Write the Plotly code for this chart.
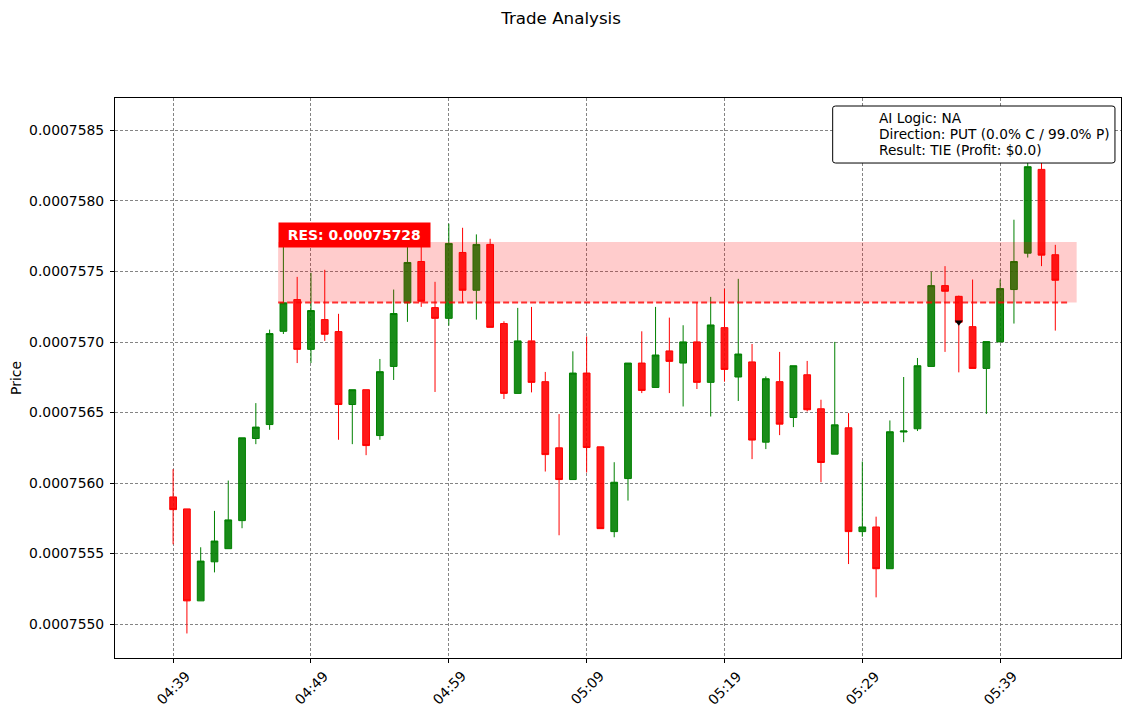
import pandas as pd
import plotly.graph_objects as go

# one candle per minute, 04:39 -> 05:43
times = pd.date_range("2024-01-01 04:39", periods=65, freq="1min")

opens = [0.000755902, 0.000755817, 0.000755165, 0.000755442, 0.000755535, 0.000755734, 0.000756316, 0.000756415,
         0.000757076, 0.000757301, 0.000756948, 0.000757159, 0.000757074, 0.000756557, 0.000756662, 0.000756337,
         0.000756827, 0.000757278, 0.000757571, 0.000757244, 0.000757168, 0.000757635, 0.000757367, 0.000757692,
         0.000757131, 0.000756636, 0.000757008, 0.000756719, 0.000756250, 0.000756025, 0.000756780, 0.000756257,
         0.000755656, 0.000756032, 0.000756851, 0.000756678, 0.000756937, 0.000756851, 0.000757001, 0.000756714,
         0.000757102, 0.000756752, 0.000756859, 0.000756290, 0.000756719, 0.000756465, 0.000756768, 0.000756527,
         0.000756205, 0.000756392, 0.000755656, 0.000755689, 0.000755393, 0.000756362, 0.000756385, 0.000756827,
         0.000757400, 0.000757324, 0.000757109, 0.000756813, 0.000757001, 0.000757372, 0.000757630, 0.000758224,
         0.000757619]
highs = [0.000756099, 0.000755817, 0.000755545, 0.000755803, 0.000756018, 0.000756321, 0.000756567, 0.000757088,
         0.000757700, 0.000757462, 0.000757491, 0.000757512, 0.000757200, 0.000756662, 0.000756662, 0.000756880,
         0.000757372, 0.000757720, 0.000757680, 0.000757427, 0.000757839, 0.000757810, 0.000757763, 0.000757732,
         0.000757147, 0.000757242, 0.000757249, 0.000756788, 0.000756489, 0.000756934, 0.000757040, 0.000756257,
         0.000756148, 0.000756851, 0.000757076, 0.000757249, 0.000757173, 0.000757119, 0.000757282, 0.000757320,
         0.000757377, 0.000757448, 0.000756986, 0.000756756, 0.000756930, 0.000756832, 0.000756866, 0.000756591,
         0.000757001, 0.000756496, 0.000756153, 0.000755762, 0.000756444, 0.000756752, 0.000756887, 0.000757498,
         0.000757538, 0.000757329, 0.000757443, 0.000757003, 0.000757443, 0.000757867, 0.000758320, 0.000758300,
         0.000757689]
lows = [0.000755566, 0.000754934, 0.000755165, 0.000755367, 0.000755535, 0.000755680, 0.000756276, 0.000756378,
        0.000757057, 0.000756851, 0.000756851, 0.000757008, 0.000756307, 0.000756276, 0.000756198, 0.000756307,
        0.000756731, 0.000757143, 0.000757249, 0.000756646, 0.000757116, 0.000757278, 0.000757159, 0.000757104,
        0.000756596, 0.000756636, 0.000756643, 0.000756082, 0.000755630, 0.000756025, 0.000756075, 0.000755677,
        0.000755616, 0.000755876, 0.000756638, 0.000756678, 0.000756638, 0.000756543, 0.000756667, 0.000756472,
        0.000756719, 0.000756582, 0.000756170, 0.000756241, 0.000756340, 0.000756397, 0.000756508, 0.000756006,
        0.000756205, 0.000755426, 0.000755620, 0.000755190, 0.000755393, 0.000756290, 0.000756369, 0.000756827,
        0.000756930, 0.000756785, 0.000756813, 0.000756491, 0.000757001, 0.000757131, 0.000757599, 0.000757538,
        0.000757081]
closes = [0.000755812, 0.000755165, 0.000755447, 0.000755589, 0.000755739, 0.000756321, 0.000756397, 0.000757060,
          0.000757278, 0.000756948, 0.000757223, 0.000757055, 0.000756557, 0.000756662, 0.000756266, 0.000756790,
          0.000757202, 0.000757564, 0.000757289, 0.000757168, 0.000757699, 0.000757367, 0.000757692, 0.000757104,
          0.000756636, 0.000757008, 0.000756714, 0.000756202, 0.000756025, 0.000756780, 0.000756252, 0.000755677,
          0.000756006, 0.000756851, 0.000756657, 0.000756908, 0.000756863, 0.000757001, 0.000756714, 0.000757121,
          0.000756806, 0.000756915, 0.000756305, 0.000756740, 0.000756418, 0.000756832, 0.000756520, 0.000756146,
          0.000756413, 0.000755656, 0.000755689, 0.000755393, 0.000756364, 0.000756369, 0.000756832, 0.000757400,
          0.000757360, 0.000757140, 0.000756813, 0.000757003, 0.000757379, 0.000757571, 0.000758243, 0.000757616,
          0.000757438]

res_level = 0.00075728
zone_top = 0.00075771
zone_start = "2024-01-01 04:46:37"
zone_end = "2024-01-01 05:44:33"
line_end = "2024-01-01 05:44:00"

entry_time = ["2024-01-01 05:36"]
entry_price = [0.00075714]

info_lines = ["AI Logic: NA",
              "Direction: PUT (0.0% C / 99.0% P)",
              "Result: TIE (Profit: $0.0)"]

tick_vals = pd.date_range("2024-01-01 04:39", periods=7, freq="10min")

FONT = "DejaVu Sans"
FS = 13.9
GRID = "rgba(110,110,110,0.85)"

fig = go.Figure()
fig.add_trace(go.Candlestick(
    x=times, open=opens, high=highs, low=lows, close=closes,
    increasing=dict(line=dict(color="green", width=1), fillcolor="rgba(0,128,0,0.9)"),
    decreasing=dict(line=dict(color="red", width=1), fillcolor="rgba(255,0,0,0.9)"),
    whiskerwidth=0, showlegend=False, hoverinfo="x+y"))

fig.add_trace(go.Scatter(
    x=entry_time, y=entry_price, mode="markers",
    marker=dict(symbol="triangle-down", color="black", size=7),
    showlegend=False))

# resistance zone, drawn over the candles
fig.add_shape(type="rect", xref="x", yref="y", x0=zone_start, x1=zone_end,
              y0=res_level, y1=zone_top, fillcolor="rgba(255,0,0,0.2)",
              line=dict(width=0), layer="above")
fig.add_shape(type="line", xref="x", yref="y", x0=zone_start, x1=line_end,
              y0=res_level, y1=res_level,
              line=dict(color="rgba(255,0,0,0.8)", width=2, dash="6px,3px"),
              layer="above")

fig.add_annotation(x=zone_start, y=0.000757759, xref="x", yref="y",
                   text="<b> RES: %.8f </b>" % res_level, showarrow=False,
                   xanchor="left", yanchor="middle",
                   font=dict(family=FONT, size=FS, color="white"),
                   bgcolor="red", borderpad=4)

# info box top right
fig.add_shape(type="path", xref="paper", yref="paper",
              path="M 0.7164 0.9857 L 0.9910 0.9857 Q 0.9940 0.9857 0.9940 0.9820 "
                   "L 0.9940 0.8876 Q 0.9940 0.8839 0.9910 0.8839 L 0.7164 0.8839 "
                   "Q 0.7134 0.8839 0.7134 0.8876 L 0.7134 0.9820 Q 0.7134 0.9857 0.7164 0.9857 Z",
              fillcolor="white", line=dict(color="black", width=1), layer="above")
for line_text, ypos in zip(info_lines, [0.9643, 0.9357, 0.9071]):
    fig.add_annotation(x=0.7572, y=ypos, xref="paper", yref="paper",
                       text=line_text, showarrow=False, align="left",
                       xanchor="left", yanchor="middle",
                       font=dict(family=FONT, size=13.7, color="black"))

# rotated time labels, centred under each tick
for t in tick_vals:
    fig.add_annotation(x=t, y=0, xref="x", yref="paper", yshift=-29.5,
                       text=t.strftime("%H:%M"), showarrow=False, textangle=-45,
                       xanchor="center", yanchor="middle",
                       font=dict(family=FONT, size=FS, color="black"))

fig.update_layout(
    width=1123, height=708,
    title=dict(text="Trade Analysis", x=0.4925, xanchor="center", y=0.986, yanchor="middle",
               font=dict(family=FONT, size=16.7, color="black")),
    font=dict(family=FONT, size=FS, color="black"),
    plot_bgcolor="white", paper_bgcolor="white",
    margin=dict(l=107, r=10, t=90, b=58, autoexpand=False),
    xaxis=dict(range=["2024-01-01 04:34:47", "2024-01-01 05:47:46"],
               rangeslider=dict(visible=False), automargin=False,
               tickvals=tick_vals, showticklabels=False,
               ticks="outside", ticklen=4, tickcolor="black",
               showgrid=True, gridcolor=GRID, griddash="3px,2px", gridwidth=1,
               showline=True, linecolor="black", mirror=True, zeroline=False),
    yaxis=dict(range=[0.00075476, 0.00075873], tick0=0.000755, dtick=0.0000005,
               automargin=False,
               tickformat=".7f", ticks="outside", ticklen=4, tickcolor="black",
               tickfont=dict(size=FS), ticklabelstandoff=3,
               title=dict(text="Price", standoff=7, font=dict(size=FS)),
               showgrid=True, gridcolor=GRID, griddash="3px,2px", gridwidth=1,
               showline=True, linecolor="black", mirror=True, zeroline=False),
)

fig.write_html("out.html")
